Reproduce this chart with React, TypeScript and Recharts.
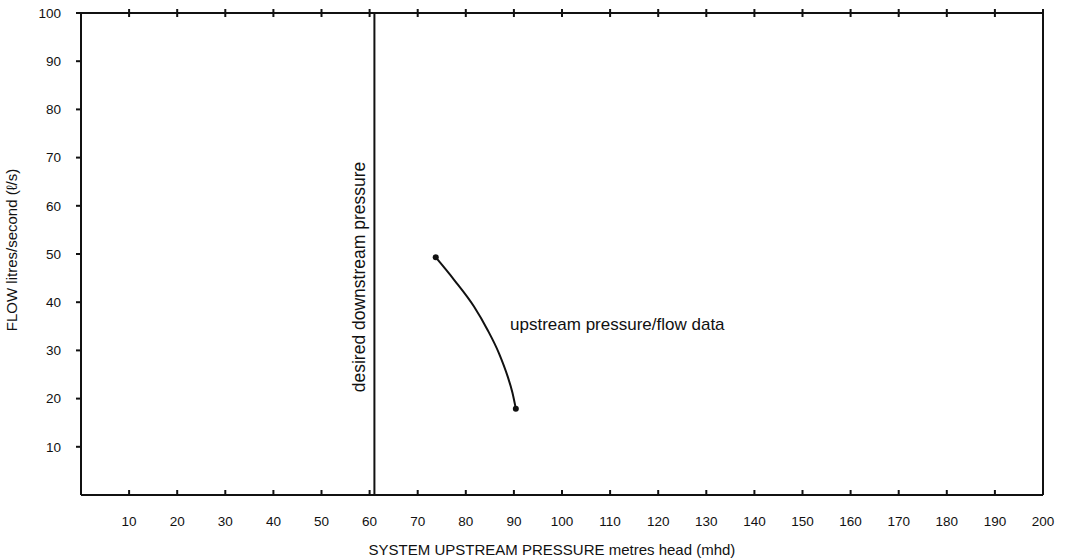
import { Label, Line, LineChart, ReferenceDot, ReferenceLine, XAxis, YAxis } from 'recharts';

const pressureTicks = [10, 20, 30, 40, 50, 60, 70, 80, 90, 100, 110, 120, 130, 140, 150, 160, 170, 180, 190, 200];
const flowTicks = [10, 20, 30, 40, 50, 60, 70, 80, 90, 100];
const curvePressure = [73.75, 77.6, 81.7, 84.5, 86.9, 88.7, 89.7, 90.4];
const curveFlow = [49.3, 44.6, 39.1, 34.3, 29.4, 24.6, 21.2, 17.9];
const desiredPressure = 61;

const data = curvePressure.map((p, i) => ({ pressure: p, flow: curveFlow[i] }));

const font = '"Liberation Sans", Arial, sans-serif';

const BottomTick = (props: any) => {
  const { x, y, payload } = props;
  return (
    <g>
      <line x1={x} y1={y} x2={x} y2={y - 5} stroke="#111" strokeWidth={2} />
      <text x={x} y={y + 27} textAnchor="middle" dominantBaseline="middle" fontSize={13.5} fill="#111" fontFamily={font}>
        {payload.value}
      </text>
    </g>
  );
};

const TopTick = (props: any) => {
  const { x, y } = props;
  return <line x1={x} y1={y - 4} x2={x} y2={y + 4} stroke="#111" strokeWidth={2} />;
};

const RightTick = (props: any) => {
  const { x, y } = props;
  return <line x1={x} y1={y} x2={x - 5} y2={y} stroke="#111" strokeWidth={2} />;
};

const EndDot = (props: any) => {
  const { cx, cy, index } = props;
  if (index !== 0 && index !== data.length - 1) return <g key={index} />;
  return <circle key={index} cx={cx} cy={cy} r={3} fill="#111" />;
};

export default function App() {
  return (
    <div style={{ position: 'absolute', left: 0, top: 0, background: '#fff' }}>
      <LineChart width={1077} height={559} data={data} margin={{ top: 0, right: 0, bottom: 0, left: 0 }}>
        <XAxis
          xAxisId="bottom"
          dataKey="pressure"
          type="number"
          domain={[0, 200]}
          ticks={pressureTicks}
          interval={0}
          height={64}
          tickSize={0}
          tickMargin={0}
          tickLine={false}
          axisLine={{ stroke: '#111', strokeWidth: 2 }}
          tick={<BottomTick />}
        >
          <Label
            value="SYSTEM UPSTREAM PRESSURE metres head (mhd)"
            position="insideBottom"
            offset={4}
            dx={-10}
            style={{ fontSize: 15, fill: '#111', fontFamily: font }}
          />
        </XAxis>
        <XAxis
          xAxisId="top"
          orientation="top"
          dataKey="pressure"
          type="number"
          domain={[0, 200]}
          ticks={pressureTicks}
          interval={0}
          height={13}
          tickSize={0}
          tickMargin={0}
          tickLine={false}
          axisLine={{ stroke: '#111', strokeWidth: 2 }}
          tick={<TopTick />}
        />
        <YAxis
          yAxisId="left"
          type="number"
          domain={[0, 100]}
          ticks={flowTicks}
          interval={0}
          width={81}
          tickSize={5}
          tickMargin={15}
          tickLine={{ stroke: '#111', strokeWidth: 2 }}
          axisLine={{ stroke: '#111', strokeWidth: 2 }}
          tick={{ fontSize: 13.5, fill: '#111', fontFamily: font }}
        >
          <Label
            value="FLOW litres/second (ℓ/s)"
            angle={-90}
            position="insideLeft"
            offset={12}
            dy={-4}
            style={{ fontSize: 15, fill: '#111', fontFamily: font, textAnchor: 'middle' }}
          />
        </YAxis>
        <YAxis
          yAxisId="right"
          orientation="right"
          type="number"
          domain={[0, 100]}
          ticks={flowTicks}
          interval={0}
          width={34}
          tickSize={0}
          tickMargin={0}
          tickLine={false}
          axisLine={{ stroke: '#111', strokeWidth: 2 }}
          tick={<RightTick />}
        />
        <ReferenceLine
          xAxisId="bottom"
          yAxisId="left"
          x={desiredPressure}
          stroke="#111"
          strokeWidth={2}
          label={(p: any) => {
            const vb = p.viewBox;
            const cx = vb.x - 14;
            const cy = 277;
            return (
              <text
                x={cx}
                y={cy}
                transform={`rotate(-90 ${cx} ${cy})`}
                textAnchor="middle"
                dominantBaseline="middle"
                fontSize={17.5}
                fill="#111"
                fontFamily={font}
              >
                desired downstream pressure
              </text>
            );
          }}
        />
        <Line
          xAxisId="bottom"
          yAxisId="left"
          type="monotone"
          dataKey="flow"
          stroke="#111"
          strokeWidth={2}
          dot={<EndDot />}
          activeDot={false}
          isAnimationActive={false}
        />
        <ReferenceDot
          xAxisId="bottom"
          yAxisId="left"
          x={111.5}
          y={35.5}
          r={0}
          stroke="none"
          fill="none"
          label={{ value: 'upstream pressure/flow data', position: 'center', fontSize: 17, fill: '#111', fontFamily: font }}
        />
      </LineChart>
    </div>
  );
}
